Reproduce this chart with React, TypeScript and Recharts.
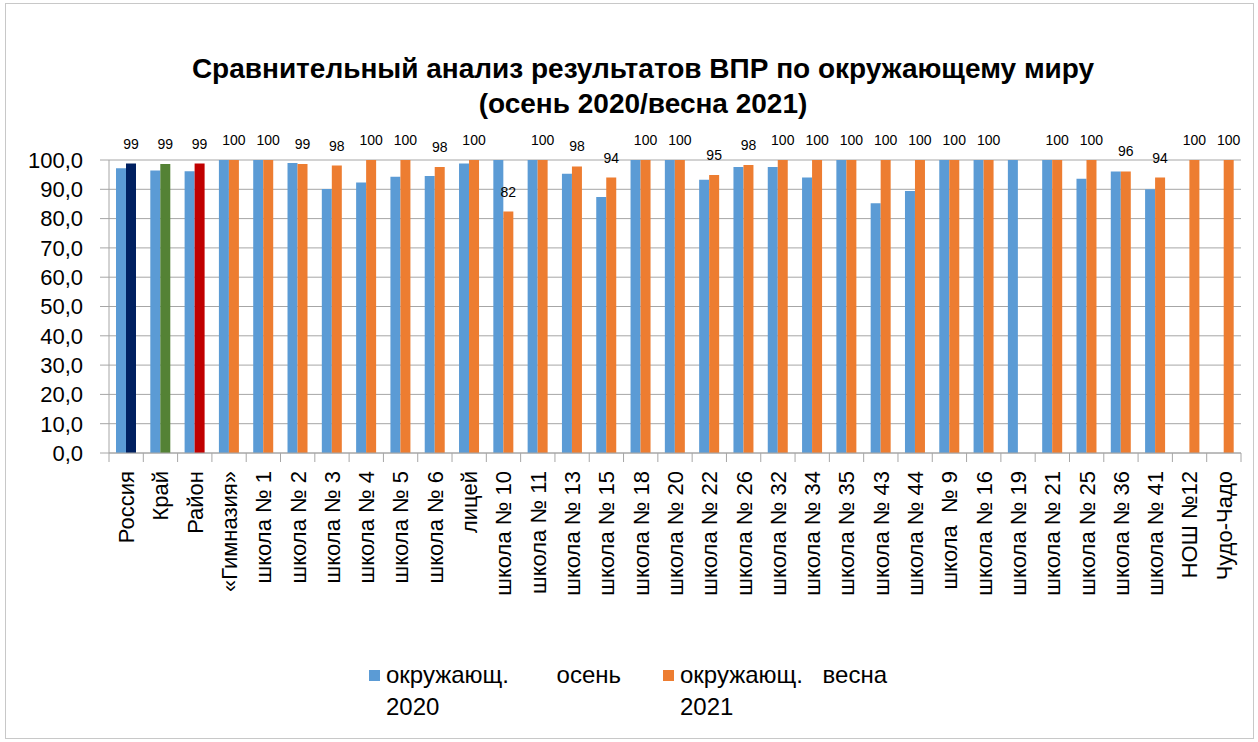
import { BarChart, Bar, XAxis, YAxis, CartesianGrid, Cell, LabelList } from 'recharts';

const categories = [
  'Россия', 'Край', 'Район', '«Гимназия»', 'школа № 1', 'школа № 2', 'школа № 3', 'школа № 4',
  'школа № 5', 'школа № 6', 'лицей', 'школа № 10', 'школа № 11', 'школа № 13', 'школа № 15',
  'школа № 18', 'школа № 20', 'школа № 22', 'школа № 26', 'школа № 32', 'школа № 34', 'школа № 35',
  'школа № 43', 'школа № 44', 'школа  № 9', 'школа № 16', 'школа № 19', 'школа № 21', 'школа № 25',
  'школа № 36', 'школа № 41', 'НОШ №12', 'Чудо-Чадо',
];

const autumn2020 = [
  97.2, 96.4, 96.2, 100, 100, 99.0, 90.1, 92.3,
  94.3, 94.5, 98.8, 100, 100, 95.3, 87.4,
  100, 100, 93.3, 97.6, 97.6, 94.0, 100,
  85.2, 89.4, 100, 100, 100, 100, 93.6,
  96.1, 90.0, null, null,
];

const spring2021 = [
  98.8, 98.6, 98.8, 100, 100, 98.6, 98.1, 100,
  100, 97.6, 100, 82.4, 100, 97.8, 94.0,
  100, 100, 94.9, 98.3, 100, 100, 100,
  100, 100, 100, 100, null, 100, 100,
  96.1, 94.0, 100, 100,
];

const yTicks = [0, 10, 20, 30, 40, 50, 60, 70, 80, 90, 100];

const springColors = ['#002060', '#548235', '#C00000'];

const data = categories.map((name, i) => ({
  name,
  autumn: autumn2020[i],
  spring: spring2021[i],
}));

const FONT = '"Liberation Sans", Arial, sans-serif';
const W = 1258;
const H = 742;
const M = { top: 160, right: 17, left: 0, bottom: 99 };
const Y_W = 109;
const BAND = (W - M.left - M.right - Y_W) / categories.length;

const XTick = (props: any) => {
  const { x, y, payload, index } = props;
  const last = index === categories.length - 1;
  return (
    <g>
      <line x1={x - BAND / 2} x2={x - BAND / 2} y1={y} y2={y + 9} stroke="#a6a6a6" />
      {last && <line x1={x + BAND / 2} x2={x + BAND / 2} y1={y} y2={y + 9} stroke="#a6a6a6" />}
      <g transform={`translate(${x},${y})`}>
        <text
          transform="rotate(-90)"
          x={-18}
          y={0}
          dy="0.36em"
          textAnchor="end"
          fill="#000"
          fontSize={22}
          fontFamily={FONT}
          style={{ whiteSpace: 'pre' }}
        >
          {payload.value}
        </text>
      </g>
    </g>
  );
};

const fmtY = (v: number) => v.toFixed(1).replace('.', ',');

const LegendItem = ({ color, first, second, width }: { color: string; first: string[]; second: string; width: number }) => (
  <div style={{ display: 'flex' }}>
    <span style={{ width: 11, height: 11, background: color, marginTop: 11, marginRight: 6, flex: 'none' }} />
    <div>
      <div style={{ display: 'flex', justifyContent: 'space-between', width }}>
        <span>{first[0]}</span>
        <span>{first[1]}</span>
      </div>
      <div>{second}</div>
    </div>
  </div>
);

export default function App() {
  return (
    <div
      style={{
        position: 'absolute',
        left: 0,
        top: 0,
        width: W,
        height: H,
        background: '#fff',
        fontFamily: FONT,
      }}
    >
      <div
        style={{
          position: 'absolute',
          left: 5,
          top: 3,
          width: 1247,
          height: 734,
          border: '1px solid #c8c8c8',
        }}
      />
      <div
        style={{
          position: 'absolute',
          top: 51,
          left: 0,
          width: 1286,
          textAlign: 'center',
          fontWeight: 'bold',
          fontSize: 28,
          lineHeight: '35px',
          color: '#000',
        }}
      >
        Сравнительный анализ результатов ВПР по окружающему миру
        <br />
        (осень 2020/весна 2021)
      </div>
      <div style={{ position: 'absolute', left: 0, top: 0 }}>
        <BarChart width={W} height={H} data={data} margin={M} barGap={0} barSize={10}>
          <CartesianGrid vertical={false} stroke="#a6a6a6" />
          <XAxis
            dataKey="name"
            interval={0}
            height={190}
            stroke="#a6a6a6"
            tickLine={false}
            tickSize={0}
            tickMargin={0}
            tick={<XTick />}
          />
          <YAxis
            domain={[0, 100]}
            ticks={yTicks}
            width={Y_W}
            stroke="#a6a6a6"
            tickSize={9}
            tickMargin={17}
            tickFormatter={fmtY}
            tick={{ fill: '#000', fontSize: 22, fontFamily: FONT }}
            interval={0}
          />
          <Bar dataKey="autumn" fill="#5B9BD5" isAnimationActive={false} />
          <Bar dataKey="spring" fill="#ED7D31" isAnimationActive={false}>
            {data.map((d, i) => (
              <Cell key={`c-${i}`} fill={i < 3 ? springColors[i] : '#ED7D31'} />
            ))}
            <LabelList
              dataKey="spring"
              position="top"
              offset={15}
              fill="#000"
              fontSize={14}
              fontFamily={FONT}
              formatter={(v: any) => (v == null ? '' : Math.round(v))}
            />
          </Bar>
        </BarChart>
      </div>
      <div
        style={{
          position: 'absolute',
          top: 659,
          left: 369,
          fontSize: 24,
          lineHeight: '32px',
          color: '#000',
          display: 'flex',
          gap: 42,
        }}
      >
        <LegendItem color="#5B9BD5" first={['окружающ.', 'осень']} second="2020" width={235} />
        <LegendItem color="#ED7D31" first={['окружающ.', 'весна']} second="2021" width={207} />
      </div>
    </div>
  );
}
